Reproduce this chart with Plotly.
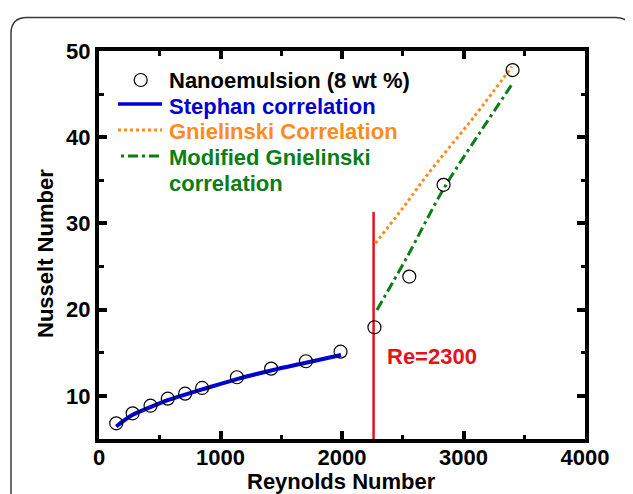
import plotly.graph_objects as go

# ---- data ----
re_data = [142, 277, 424, 566, 709, 849, 1135, 1417, 1703, 1988, 2267, 2554, 2836, 3404]
nu_data = [6.82, 7.98, 8.86, 9.68, 10.26, 10.92, 12.16, 13.16, 14.02, 15.13, 17.96, 23.84, 34.48, 47.79]

stephan_re = [142, 277, 424, 566, 709, 849, 1135, 1417, 1703, 1992]
stephan_nu = [6.45, 7.8, 8.7, 9.5, 10.15, 10.75, 11.95, 12.95, 13.85, 14.75]

gnielinski_re = [2274, 2480, 2700, 3083, 3399]
gnielinski_nu = [27.7, 31.4, 35.6, 42.3, 48.2]

mod_gnielinski_re = [2288, 2535, 2836, 3138, 3407]
mod_gnielinski_nu = [19.97, 26.1, 34.0, 40.6, 46.3]

re_crit_x = [2260, 2260]
re_crit_y = [5, 31.35]

legend_labels = ["Nanoemulsion (8 wt %)", "Stephan correlation",
                 "Gnielinski Correlation", "Modified Gnielinski", "correlation"]

x_ticks = [0, 1000, 2000, 3000, 4000]
y_ticks = [10, 20, 30, 40, 50]

# ---- styling ----
OFF = 8                      # page body margin in the browser
WIN_W, WIN_H = 633, 494
FW, FH = WIN_W - OFF, WIN_H - OFF
# plot area in page pixels: x 99..585, y 51..439
ML, MR, MT, MB = 99 - OFF, WIN_W - 585, 51 - OFF, WIN_H - 439
PW, PH = FW - ML - MR, FH - MT - MB
FONT = "Liberation Sans, Arial, Helvetica, sans-serif"
BLUE = "#0000d2"
ORANGE = "#ff8a1e"
GREEN = "#0b7d16"
RED = "#e3121b"


def px(x):
    """page x pixel -> paper fraction"""
    return (x - OFF - ML) / PW


def py(y):
    """page y pixel -> paper fraction"""
    return (OFF + MT + PH - y) / PH


fig = go.Figure()

fig.add_trace(go.Scatter(x=re_crit_x, y=re_crit_y, mode="lines",
                         line=dict(color=RED, width=2.5), showlegend=False))
fig.add_trace(go.Scatter(x=stephan_re, y=stephan_nu, mode="lines",
                         line=dict(color=BLUE, width=4, shape="spline"), showlegend=False))
fig.add_trace(go.Scatter(x=gnielinski_re, y=gnielinski_nu, mode="lines",
                         line=dict(color=ORANGE, width=3, dash="3px,3px", shape="spline"),
                         showlegend=False))
fig.add_trace(go.Scatter(x=mod_gnielinski_re, y=mod_gnielinski_nu, mode="lines",
                         line=dict(color=GREEN, width=3, dash="10px,4px,3px,4px", shape="spline"),
                         showlegend=False))
fig.add_trace(go.Scatter(x=re_data, y=nu_data, mode="markers",
                         marker=dict(symbol="circle-open", size=13, color="black",
                                     line=dict(width=1.2, color="black")),
                         showlegend=False))

shapes = []
# outer rounded frame
x0, y0, x1, y1, r = 11, 17.5, 631.5, 540, 16
path = (f"M {px(x0)},{py(y1)} L {px(x0)},{py(y0 + r)} "
        f"Q {px(x0)},{py(y0)} {px(x0 + r)},{py(y0)} "
        f"L {px(x1 - r)},{py(y0)} Q {px(x1)},{py(y0)} {px(x1)},{py(y0 + r)} "
        f"L {px(x1)},{py(y1)}")
shapes.append(dict(type="path", xref="paper", yref="paper", path=path,
                   line=dict(color="#3a3a3a", width=1.5)))
# legend samples
shapes.append(dict(type="circle", xref="paper", yref="paper",
                   x0=px(134.2), x1=px(147.2), y0=py(86.5), y1=py(73.5),
                   line=dict(color="black", width=1.2)))
shapes.append(dict(type="line", xref="paper", yref="paper",
                   x0=px(118), x1=px(162), y0=py(104), y1=py(104),
                   line=dict(color=BLUE, width=3.5)))
shapes.append(dict(type="line", xref="paper", yref="paper",
                   x0=px(118), x1=px(162), y0=py(130), y1=py(130),
                   line=dict(color=ORANGE, width=3, dash="3px,3px")))
shapes.append(dict(type="line", xref="paper", yref="paper",
                   x0=px(121), x1=px(161), y0=py(156), y1=py(156),
                   line=dict(color=GREEN, width=3, dash="3px,4px,10px,4px")))

annotations = []
leg_colors = ["black", BLUE, ORANGE, GREEN, GREEN]
leg_y = [81, 106, 131, 157, 183]
for lab, col, yy in zip(legend_labels, leg_colors, leg_y):
    annotations.append(dict(text=lab, xref="paper", yref="paper", x=px(167), y=py(yy),
                            xanchor="left", yanchor="middle", showarrow=False,
                            font=dict(family=FONT, size=22, color=col, weight="bold")))

annotations.append(dict(text="Re=2300", x=2743, y=14.57, xref="x", yref="y",
                        showarrow=False, xanchor="center", yanchor="middle",
                        font=dict(family=FONT, size=22, color=RED, weight="bold")))
annotations.append(dict(text="Reynolds Number", xref="paper", yref="paper",
                        x=px(341), y=py(481), showarrow=False,
                        xanchor="center", yanchor="middle",
                        font=dict(family=FONT, size=22, color="black", weight="bold")))
annotations.append(dict(text="Nusselt Number", xref="paper", yref="paper",
                        x=px(46), y=py(254), showarrow=False, textangle=-90,
                        xanchor="center", yanchor="middle",
                        font=dict(family=FONT, size=22, color="black", weight="bold")))

axis_common = dict(showline=True, linewidth=4, linecolor="black", mirror="ticks",
                   ticks="inside", ticklen=8, tickwidth=3.5, tickcolor="black",
                   showgrid=False, zeroline=False, automargin=False,
                   tickfont=dict(family=FONT, size=22, color="black", weight="bold"))

fig.update_layout(
    width=FW, height=FH,
    margin=dict(l=ML, r=MR, t=MT, b=MB),
    paper_bgcolor="white", plot_bgcolor="white",
    showlegend=False,
    shapes=shapes, annotations=annotations,
    xaxis=dict(range=[0, 4000], tickvals=x_ticks, ticklabelstandoff=-4,
               minor=dict(dtick=500, ticks="inside", ticklen=4.5, tickwidth=3, tickcolor="black"),
               **axis_common),
    yaxis=dict(range=[5, 50], tickvals=y_ticks, ticklabelstandoff=0,
               minor=dict(dtick=5, tick0=0, ticks="inside", ticklen=4.5, tickwidth=3, tickcolor="black"),
               **axis_common),
)

fig.write_html("out.html")
